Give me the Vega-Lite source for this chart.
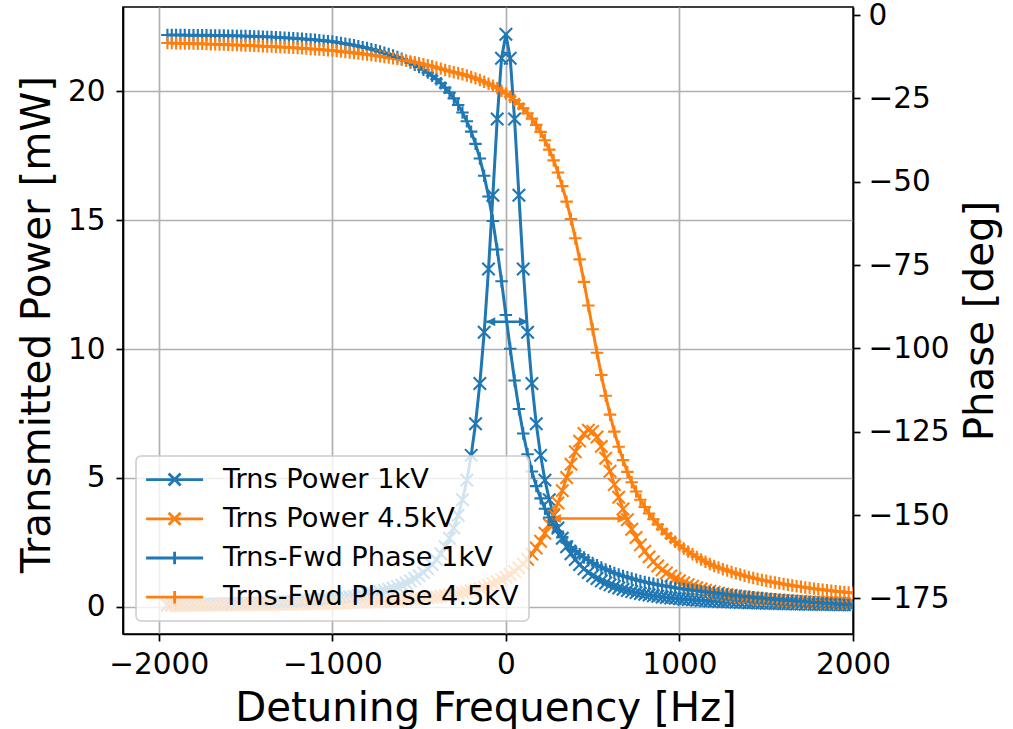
{
"$schema": "https://vega.github.io/schema/vega-lite/v6.json",
"width": 730, "height": 627,
"autosize": {"type": "none"},
"padding": {"left": 123, "top": 7, "right": 160, "bottom": 95},
"background": "white",
"config": {
  "font": "DejaVu Sans",
  "view": {"stroke": "black", "strokeWidth": 1.7},
  "axis": {"labelFont": "DejaVu Sans", "titleFont": "DejaVu Sans", "labelFontSize": 29.5, "titleFontSize": 40.3, "titleFontWeight": "normal", "labelColor": "black", "titleColor": "black", "tickColor": "black", "domainColor": "black", "tickSize": 7, "tickWidth": 1.7, "domainWidth": 1.7, "gridColor": "#b0b0b0", "gridWidth": 1.7, "labelOverlap": false, "labelFlush": false, "labelBound": false}
},
"data": {"values": [
{"f":-1950,"a":0.0838,"b":0.0537,"c":-6.01,"d":-8.39},
{"f":-1925,"a":0.0859,"b":0.0548,"c":-6.01,"d":-8.42},
{"f":-1900,"a":0.0882,"b":0.0560,"c":-6.01,"d":-8.45},
{"f":-1875,"a":0.0906,"b":0.0572,"c":-6.02,"d":-8.48},
{"f":-1850,"a":0.0930,"b":0.0584,"c":-6.03,"d":-8.53},
{"f":-1825,"a":0.0956,"b":0.0597,"c":-6.04,"d":-8.56},
{"f":-1800,"a":0.0982,"b":0.0610,"c":-6.05,"d":-8.59},
{"f":-1775,"a":0.1010,"b":0.0623,"c":-6.06,"d":-8.63},
{"f":-1750,"a":0.1039,"b":0.0637,"c":-6.07,"d":-8.66},
{"f":-1725,"a":0.1069,"b":0.0651,"c":-6.09,"d":-8.70},
{"f":-1700,"a":0.1101,"b":0.0666,"c":-6.11,"d":-8.75},
{"f":-1675,"a":0.1134,"b":0.0682,"c":-6.13,"d":-8.79},
{"f":-1650,"a":0.1168,"b":0.0698,"c":-6.15,"d":-8.83},
{"f":-1625,"a":0.1204,"b":0.0714,"c":-6.17,"d":-8.87},
{"f":-1600,"a":0.1242,"b":0.0731,"c":-6.20,"d":-8.92},
{"f":-1575,"a":0.1281,"b":0.0749,"c":-6.23,"d":-8.97},
{"f":-1550,"a":0.1323,"b":0.0767,"c":-6.26,"d":-9.02},
{"f":-1525,"a":0.1366,"b":0.0786,"c":-6.29,"d":-9.07},
{"f":-1500,"a":0.1412,"b":0.0806,"c":-6.33,"d":-9.12},
{"f":-1475,"a":0.1460,"b":0.0826,"c":-6.37,"d":-9.18},
{"f":-1450,"a":0.1510,"b":0.0848,"c":-6.41,"d":-9.23},
{"f":-1425,"a":0.1563,"b":0.0870,"c":-6.46,"d":-9.29},
{"f":-1400,"a":0.1619,"b":0.0893,"c":-6.51,"d":-9.35},
{"f":-1375,"a":0.1678,"b":0.0917,"c":-6.56,"d":-9.42},
{"f":-1350,"a":0.1740,"b":0.0942,"c":-6.62,"d":-9.48},
{"f":-1325,"a":0.1806,"b":0.0967,"c":-6.68,"d":-9.55},
{"f":-1300,"a":0.1876,"b":0.0994,"c":-6.75,"d":-9.61},
{"f":-1275,"a":0.1949,"b":0.1022,"c":-6.82,"d":-9.68},
{"f":-1250,"a":0.2027,"b":0.1052,"c":-6.89,"d":-9.76},
{"f":-1225,"a":0.2110,"b":0.1082,"c":-6.97,"d":-9.84},
{"f":-1200,"a":0.2198,"b":0.1114,"c":-7.05,"d":-9.92},
{"f":-1175,"a":0.2292,"b":0.1148,"c":-7.14,"d":-10.00},
{"f":-1150,"a":0.2391,"b":0.1182,"c":-7.24,"d":-10.08},
{"f":-1125,"a":0.2497,"b":0.1219,"c":-7.34,"d":-10.17},
{"f":-1100,"a":0.2611,"b":0.1257,"c":-7.45,"d":-10.26},
{"f":-1075,"a":0.2732,"b":0.1297,"c":-7.57,"d":-10.37},
{"f":-1050,"a":0.2862,"b":0.1339,"c":-7.69,"d":-10.46},
{"f":-1025,"a":0.3002,"b":0.1383,"c":-7.83,"d":-10.56},
{"f":-1000,"a":0.3151,"b":0.1429,"c":-7.97,"d":-10.67},
{"f":-975,"a":0.3313,"b":0.1477,"c":-8.17,"d":-10.80},
{"f":-950,"a":0.3487,"b":0.1528,"c":-8.38,"d":-10.93},
{"f":-925,"a":0.3674,"b":0.1582,"c":-8.61,"d":-11.07},
{"f":-900,"a":0.3878,"b":0.1638,"c":-8.84,"d":-11.22},
{"f":-875,"a":0.4098,"b":0.1698,"c":-9.09,"d":-11.37},
{"f":-850,"a":0.4338,"b":0.1760,"c":-9.35,"d":-11.52},
{"f":-825,"a":0.4600,"b":0.1827,"c":-9.63,"d":-11.68},
{"f":-800,"a":0.4885,"b":0.1897,"c":-9.92,"d":-11.85},
{"f":-775,"a":0.5198,"b":0.1971,"c":-10.24,"d":-12.02},
{"f":-750,"a":0.5541,"b":0.2049,"c":-10.57,"d":-12.20},
{"f":-725,"a":0.5920,"b":0.2132,"c":-10.93,"d":-12.38},
{"f":-700,"a":0.6338,"b":0.2220,"c":-11.31,"d":-12.58},
{"f":-675,"a":0.6801,"b":0.2314,"c":-11.71,"d":-12.78},
{"f":-650,"a":0.7317,"b":0.2414,"c":-12.15,"d":-12.99},
{"f":-625,"a":0.7893,"b":0.2520,"c":-12.62,"d":-13.21},
{"f":-600,"a":0.8538,"b":0.2634,"c":-13.13,"d":-13.44},
{"f":-575,"a":0.9265,"b":0.2755,"c":-13.68,"d":-13.69},
{"f":-550,"a":1.0088,"b":0.2884,"c":-14.28,"d":-13.94},
{"f":-525,"a":1.1022,"b":0.3023,"c":-14.93,"d":-14.20},
{"f":-500,"a":1.2091,"b":0.3172,"c":-15.64,"d":-14.48},
{"f":-475,"a":1.3319,"b":0.3332,"c":-16.42,"d":-14.77},
{"f":-450,"a":1.4739,"b":0.3504,"c":-17.28,"d":-15.07},
{"f":-425,"a":1.6392,"b":0.3689,"c":-18.22,"d":-15.39},
{"f":-400,"a":1.8330,"b":0.3890,"c":-19.26,"d":-15.73},
{"f":-375,"a":2.0621,"b":0.4107,"c":-20.47,"d":-16.09},
{"f":-350,"a":2.3351,"b":0.4341,"c":-21.80,"d":-16.47},
{"f":-325,"a":2.6634,"b":0.4597,"c":-23.30,"d":-16.87},
{"f":-300,"a":3.0621,"b":0.4874,"c":-25.02,"d":-17.16},
{"f":-275,"a":3.5510,"b":0.5177,"c":-26.98,"d":-17.46},
{"f":-250,"a":4.1571,"b":0.5509,"c":-29.25,"d":-17.80},
{"f":-225,"a":4.9163,"b":0.5872,"c":-31.89,"d":-18.17},
{"f":-200,"a":5.8765,"b":0.6271,"c":-34.99,"d":-18.57},
{"f":-175,"a":7.1000,"b":0.6710,"c":-38.66,"d":-19.01},
{"f":-150,"a":8.6634,"b":0.7195,"c":-43.03,"d":-19.49},
{"f":-125,"a":10.647,"b":0.7733,"c":-48.24,"d":-20.02},
{"f":-100,"a":13.102,"b":0.8330,"c":-54.46,"d":-20.60},
{"f":-75,"a":15.964,"b":0.8996,"c":-61.82,"d":-21.24},
{"f":-50,"a":18.916,"b":0.9740,"c":-70.35,"d":-21.93},
{"f":-25,"a":21.276,"b":1.0574,"c":-79.88,"d":-22.70},
{"f":0,"a":22.2,"b":1.1512,"c":-90.0,"d":-23.56},
{"f":25,"a":21.276,"b":1.2571,"c":-100.12,"d":-24.50},
{"f":50,"a":18.916,"b":1.3771,"c":-109.65,"d":-25.55},
{"f":75,"a":15.964,"b":1.5133,"c":-118.18,"d":-26.72},
{"f":100,"a":13.102,"b":1.6686,"c":-125.54,"d":-28.02},
{"f":125,"a":10.647,"b":1.8459,"c":-131.76,"d":-29.48},
{"f":150,"a":8.6634,"b":2.0488,"c":-136.97,"d":-31.10},
{"f":175,"a":7.1000,"b":2.2814,"c":-141.34,"d":-32.97},
{"f":200,"a":5.8765,"b":2.5479,"c":-145.01,"d":-35.06},
{"f":225,"a":4.9163,"b":2.8528,"c":-148.11,"d":-37.57},
{"f":250,"a":4.1571,"b":3.2001,"c":-150.75,"d":-40.40},
{"f":275,"a":3.5510,"b":3.5925,"c":-153.02,"d":-43.60},
{"f":300,"a":3.0621,"b":4.0301,"c":-154.98,"d":-47.23},
{"f":325,"a":2.6634,"b":4.5084,"c":-156.70,"d":-51.34},
{"f":350,"a":2.3351,"b":5.0153,"c":-158.20,"d":-55.98},
{"f":375,"a":2.0621,"b":5.5286,"c":-159.53,"d":-61.19},
{"f":400,"a":1.8330,"b":6.0142,"c":-160.74,"d":-66.97},
{"f":425,"a":1.6392,"b":6.4280,"c":-161.78,"d":-73.30},
{"f":450,"a":1.4739,"b":6.7215,"c":-162.72,"d":-80.07},
{"f":475,"a":1.3319,"b":6.8548,"c":-163.58,"d":-87.14},
{"f":500,"a":1.2091,"b":6.8073,"c":-164.36,"d":-94.29},
{"f":525,"a":1.1022,"b":6.5867,"c":-165.07,"d":-101.31},
{"f":550,"a":1.0088,"b":6.2248,"c":-165.72,"d":-108.00},
{"f":575,"a":0.9265,"b":5.7676,"c":-166.32,"d":-114.23},
{"f":600,"a":0.8538,"b":5.2626,"c":-166.87,"d":-119.90},
{"f":625,"a":0.7893,"b":4.7492,"c":-167.38,"d":-124.99},
{"f":650,"a":0.7317,"b":4.2551,"c":-167.85,"d":-129.52},
{"f":675,"a":0.6801,"b":3.7970,"c":-168.29,"d":-133.53},
{"f":700,"a":0.6338,"b":3.3827,"c":-168.69,"d":-137.07},
{"f":725,"a":0.5920,"b":3.0140,"c":-169.07,"d":-140.19},
{"f":750,"a":0.5541,"b":2.6892,"c":-169.43,"d":-142.96},
{"f":775,"a":0.5198,"b":2.4048,"c":-169.76,"d":-145.41},
{"f":800,"a":0.4885,"b":2.1565,"c":-170.08,"d":-147.59},
{"f":825,"a":0.4600,"b":1.9398,"c":-170.37,"d":-149.53},
{"f":850,"a":0.4338,"b":1.7507,"c":-170.65,"d":-151.28},
{"f":875,"a":0.4098,"b":1.5853,"c":-170.91,"d":-152.85},
{"f":900,"a":0.3878,"b":1.4403,"c":-171.16,"d":-154.27},
{"f":925,"a":0.3674,"b":1.3128,"c":-171.39,"d":-155.64},
{"f":950,"a":0.3487,"b":1.2004,"c":-171.62,"d":-156.88},
{"f":975,"a":0.3313,"b":1.1010,"c":-171.83,"d":-158.03},
{"f":1000,"a":0.3151,"b":1.0128,"c":-172.03,"d":-159.08},
{"f":1025,"a":0.3002,"b":0.9342,"c":-172.22,"d":-160.06},
{"f":1050,"a":0.2862,"b":0.8641,"c":-172.41,"d":-160.95},
{"f":1075,"a":0.2732,"b":0.8012,"c":-172.58,"d":-161.80},
{"f":1100,"a":0.2611,"b":0.7446,"c":-172.75,"d":-162.58},
{"f":1125,"a":0.2497,"b":0.6937,"c":-172.91,"d":-163.32},
{"f":1150,"a":0.2391,"b":0.6476,"c":-173.06,"d":-164.01},
{"f":1175,"a":0.2292,"b":0.6058,"c":-173.21,"d":-164.67},
{"f":1200,"a":0.2198,"b":0.5679,"c":-173.35,"d":-165.27},
{"f":1225,"a":0.2110,"b":0.5333,"c":-173.51,"d":-165.78},
{"f":1250,"a":0.2027,"b":0.5016,"c":-173.67,"d":-166.25},
{"f":1275,"a":0.1949,"b":0.4727,"c":-173.82,"d":-166.69},
{"f":1300,"a":0.1876,"b":0.4461,"c":-173.98,"d":-167.11},
{"f":1325,"a":0.1806,"b":0.4217,"c":-174.13,"d":-167.51},
{"f":1350,"a":0.1740,"b":0.3992,"c":-174.27,"d":-167.88},
{"f":1375,"a":0.1678,"b":0.3784,"c":-174.41,"d":-168.24},
{"f":1400,"a":0.1619,"b":0.3591,"c":-174.54,"d":-168.57},
{"f":1425,"a":0.1563,"b":0.3413,"c":-174.67,"d":-168.89},
{"f":1450,"a":0.1510,"b":0.3247,"c":-174.80,"d":-169.19},
{"f":1475,"a":0.1460,"b":0.3093,"c":-174.92,"d":-169.48},
{"f":1500,"a":0.1412,"b":0.2950,"c":-175.05,"d":-169.75},
{"f":1525,"a":0.1366,"b":0.2816,"c":-175.17,"d":-170.01},
{"f":1550,"a":0.1323,"b":0.2691,"c":-175.28,"d":-170.26},
{"f":1575,"a":0.1281,"b":0.2574,"c":-175.39,"d":-170.50},
{"f":1600,"a":0.1242,"b":0.2464,"c":-175.50,"d":-170.73},
{"f":1625,"a":0.1204,"b":0.2361,"c":-175.61,"d":-170.95},
{"f":1650,"a":0.1168,"b":0.2265,"c":-175.71,"d":-171.16},
{"f":1675,"a":0.1134,"b":0.2174,"c":-175.81,"d":-171.36},
{"f":1700,"a":0.1101,"b":0.2088,"c":-175.92,"d":-171.55},
{"f":1725,"a":0.1069,"b":0.2008,"c":-176.02,"d":-171.74},
{"f":1750,"a":0.1039,"b":0.1932,"c":-176.12,"d":-171.92},
{"f":1775,"a":0.1010,"b":0.1860,"c":-176.21,"d":-172.09},
{"f":1800,"a":0.0982,"b":0.1792,"c":-176.30,"d":-172.25},
{"f":1825,"a":0.0956,"b":0.1727,"c":-176.39,"d":-172.41},
{"f":1850,"a":0.0930,"b":0.1666,"c":-176.48,"d":-172.57},
{"f":1875,"a":0.0906,"b":0.1608,"c":-176.57,"d":-172.71},
{"f":1900,"a":0.0882,"b":0.1554,"c":-176.67,"d":-172.86},
{"f":1925,"a":0.0859,"b":0.1501,"c":-176.75,"d":-172.99},
{"f":1950,"a":0.0838,"b":0.1452,"c":-176.83,"d":-173.13},
{"f":1975,"a":0.0817,"b":0.1405,"c":-176.91,"d":-173.26},
{"f":2000,"a":0.0796,"b":0.1360,"c":-176.99,"d":-173.38}
]},
"encoding": {
  "x": {"field": "f", "type": "quantitative", "scale": {"domain": [-2206, 2000], "nice": false, "zero": false},
    "axis": {"title": "Detuning Frequency [Hz]", "values": [-2000, -1000, 0, 1000, 2000], "grid": true, "labelExpr": "datum.value < 0 ? '\u2212' + abs(datum.value) : '' + datum.value", "labelBaseline": "alphabetic", "labelPadding": 32.3, "titleX": 362.5, "titleY": 86, "titleBaseline": "alphabetic", "titleAlign": "center"}},
  "color": {"field": "s", "type": "nominal",
    "scale": {"domain": ["a", "b", "c", "d"], "range": ["#1f77b4", "#ff7f0e", "#1f77b4", "#ff7f0e"]},
    "legend": {"orient": "none", "legendX": 13, "legendY": 449, "title": null,
      "labelExpr": "datum.value == 'a' ? 'Trns Power 1kV' : datum.value == 'b' ? 'Trns Power 4.5kV' : datum.value == 'c' ? 'Trns-Fwd Phase 1kV' : 'Trns-Fwd Phase 4.5kV'",
      "labelFont": "DejaVu Sans", "labelFontSize": 27.2, "labelColor": "black", "labelLimit": 500,
      "fillColor": "rgba(255,255,255,0.8)", "strokeColor": "#cccccc", "cornerRadius": 5, "padding": 10,
      "symbolSize": 100, "symbolOffset": 15, "labelOffset": 34.8, "rowPadding": 11.2, "symbolStrokeWidth": 2.8,
      "encode": {
        "legend": {"update": {"strokeWidth": {"value": 1.5}}},
        "symbols": {"update": {
        "shape": {"signal": "datum.value == 'a' || datum.value == 'b' ? 'M-5.7,0H5.7M-1.2,-1.2L1.2,1.2M-1.2,1.2L1.2,-1.2' : 'M-5.7,0H5.7M0,-1.25V1.25M-1.25,0H1.25'"},
        "stroke": {"scale": "color", "field": "value"},
        "fill": {"value": "transparent"},
        "strokeWidth": {"value": 2.8},
        "opacity": {"value": 1}}}}}}
},
"layer": [
  {
    "encoding": {"y": {"field": "v", "type": "quantitative", "scale": {"domain": [-1.05, 23.26], "nice": false, "zero": false},
      "axis": {"title": "Transmitted Power [mW]", "orient": "left", "values": [0, 5, 10, 15, 20], "format": "d", "grid": true, "labelPadding": 11, "titleAngle": 270, "titleX": -73.4, "titleY": 317, "titleBaseline": "alphabetic", "titleAlign": "center"}}},
    "layer": [
      {"transform": [{"fold": ["a", "b"], "as": ["s", "v"]}], "mark": {"type": "line", "strokeWidth": 3, "clip": true}},
      {"transform": [{"fold": ["a", "b"], "as": ["s", "v"]}], "mark": {"type": "point", "shape": "M-1,-1L1,1M-1,1L1,-1", "size": 155, "filled": false, "strokeWidth": 2.1, "opacity": 1, "clip": true}},
      {"data": {"values": [{"f": -113, "f2": 127, "v": 11.06, "s": "a"}, {"f": 265, "f2": 695, "v": 3.43, "s": "b"}]},
       "mark": {"type": "rule", "strokeWidth": 2.5}, "encoding": {"x2": {"field": "f2"}}},
      {"data": {"values": [{"f": -113, "f2": 127, "v": 11.06, "s": "a"}, {"f": 265, "f2": 695, "v": 3.43, "s": "b"}]},
       "transform": [{"fold": ["f", "f2"], "as": ["end", "f"]}],
       "mark": {"type": "point", "filled": true, "size": 100, "opacity": 1, "strokeWidth": 0},
       "encoding": {"shape": {"field": "end", "type": "nominal", "scale": {"domain": ["f", "f2"], "range": ["M0,0L1.8,-0.9L1.8,0.9Z", "M0,0L-1.8,-0.9L-1.8,0.9Z"]}, "legend": null}}}
    ]
  },
  {
    "encoding": {"y": {"field": "v", "type": "quantitative", "scale": {"domain": [-185.7, 2.4], "nice": false, "zero": false},
      "axis": {"title": "Phase [deg]", "orient": "right", "values": [0, -25, -50, -75, -100, -125, -150, -175], "grid": false, "labelExpr": "datum.value < 0 ? '\u2212' + abs(datum.value) : '' + datum.value", "labelPadding": 8, "titleAngle": 270, "titleX": 139.6, "titleY": 313.5, "titleBaseline": "alphabetic", "titleAlign": "center"}}},
    "layer": [
      {"transform": [{"fold": ["c", "d"], "as": ["s", "v"]}], "mark": {"type": "line", "strokeWidth": 3, "clip": true}},
      {"transform": [{"fold": ["c", "d"], "as": ["s", "v"]}], "mark": {"type": "point", "shape": "M-1,0H1M0,-1V1", "size": 155, "filled": false, "strokeWidth": 2.1, "opacity": 1, "clip": true}}
    ]
  }
],
"resolve": {"scale": {"y": "independent"}}
}
